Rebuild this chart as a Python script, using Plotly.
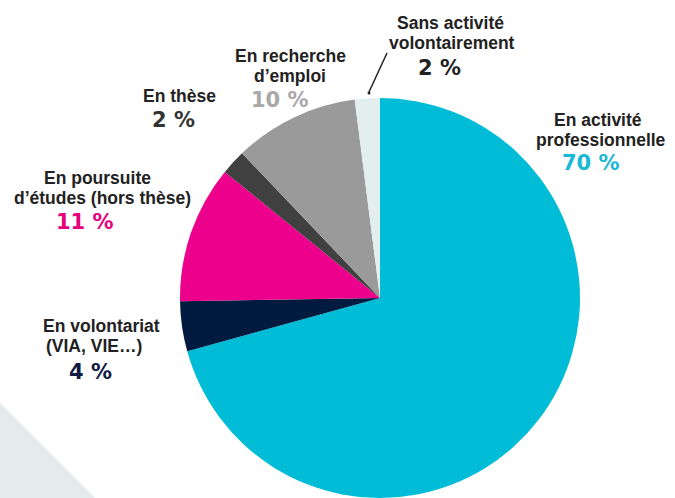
import plotly.graph_objects as go

# data #
labels = ["En activité professionnelle", "En volontariat (VIA, VIE…)",
          "En poursuite d'études (hors thèse)", "En thèse",
          "En recherche d'emploi", "Sans activité volontairement"]
values = [70, 4, 11, 2, 10, 2]
slice_colors = ["#00BCD6", "#001A40", "#EC008C", "#404040", "#999A99", "#E3EEEF"]

label_lines = [["En activité", "professionnelle"],
               ["En volontariat", "(VIA, VIE…)"],
               ["En poursuite", "d’études (hors thèse)"],
               ["En thèse"],
               ["En recherche", "d’emploi"],
               ["Sans activité", "volontairement"]]
pct_text = ["70 %", "4 %", "11 %", "2 %", "10 %", "2 %"]
pct_colors = ["#1AB8D4", "#0F1B45", "#E6007E", "#333333", "#A8A8A8", "#222222"]

# where each label block sits (pixel centres, from top-left) #
line_pos = [[(598, 120), (601, 140)],
            [(101, 326), (94, 346)],
            [(97, 178), (102, 198)],
            [(179, 96)],
            [(290, 56), (290, 76)],
            [(450, 23), (452, 43)]]
pct_pos = [(591, 163), (90, 372), (85, 222), (173, 120), (280, 100), (439, 68)]

W, H = 675, 498


def px_x(x):
    return x / W


def px_y(y):
    return 1 - y / H


fig = go.Figure()

fig.add_trace(go.Pie(
    labels=labels, values=values, sort=False, direction="clockwise", rotation=0,
    marker=dict(colors=slice_colors, line=dict(width=0)),
    textinfo="none", hoverinfo="label+percent", showlegend=False,
    domain=dict(x=[px_x(380 - 200), px_x(380 + 200)], y=[0, px_y(298 - 200)]),
))

# background triangle bottom-left #
fig.add_shape(type="path", xref="paper", yref="paper",
              path=f"M 0 {px_y(403)} L {px_x(95)} 0 L 0 0 Z",
              fillcolor="#E4ECEB", line=dict(width=0), layer="below")

# leader line to the small slice #
fig.add_shape(type="line", xref="paper", yref="paper",
              x0=px_x(387), y0=px_y(53), x1=px_x(369), y1=px_y(92),
              line=dict(color="#222222", width=1.5))
fig.add_shape(type="circle", xref="paper", yref="paper",
              x0=px_x(367.5), y0=px_y(91.5), x1=px_x(370.5), y1=px_y(94.5),
              fillcolor="#222222", line=dict(width=0))

for lines, poss in zip(label_lines, line_pos):
    for txt, (x, y) in zip(lines, poss):
        fig.add_annotation(x=px_x(x), y=px_y(y), xref="paper", yref="paper",
                           text=f"<b>{txt}</b>", showarrow=False,
                           xanchor="center", yanchor="middle",
                           font=dict(family="Liberation Sans", size=17.5, color="#222222"))

for txt, (x, y), c in zip(pct_text, pct_pos, pct_colors):
    fig.add_annotation(x=px_x(x), y=px_y(y), xref="paper", yref="paper",
                       text=f"<b>{txt}</b>", showarrow=False,
                       xanchor="center", yanchor="middle",
                       font=dict(family="DejaVu Sans", size=21, color=c))

fig.update_layout(width=W, height=H, margin=dict(l=0, r=0, t=0, b=0),
                  paper_bgcolor="white", plot_bgcolor="white")

# page margin off so the figure sits at the window's corner
fig.write_html("out.html", config={"displayModeBar": False},
               post_script="document.body.style.margin='0';")
